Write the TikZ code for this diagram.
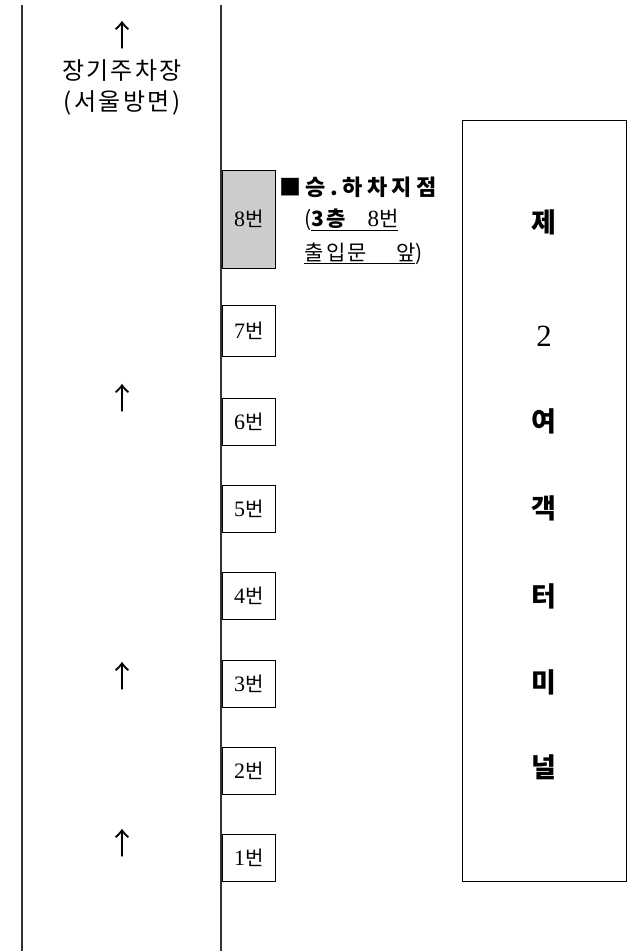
\documentclass[tikz,border=0pt]{standalone}
\usepackage{fontspec}
\newfontfamily\kr{Noto Sans CJK KR}
\newfontfamily\num{Liberation Serif}[Scale=1.1]
\usepackage{tikz}
\usetikzlibrary{arrows.meta,positioning}

\begin{document}
\begin{tikzpicture}[
  x=1pt, y=-1pt,
  road/.style={draw=black!80, line width=1.2pt},
  gatebox/.style={draw, line width=0.8pt, anchor=west, minimum width=53pt, minimum height=47pt, inner sep=1pt, fill=white, font=\fontsize{20}{24}\selectfont},
  termchar/.style={font=\kr\bfseries\fontsize{27}{30}\selectfont},
  sidelabel/.style={font=\kr\addfontfeature{LetterSpace=10}\fontsize{24}{26}\selectfont},
  uparrow/.style={font=\kr\fontsize{30}{30}\selectfont},
  stoptext/.style={anchor=west, inner sep=0pt, font=\kr\addfontfeature{LetterSpace=12}\fontsize{21}{24}\selectfont}
]
  \useasboundingbox (0,0) rectangle (633,951);

  % roads
  \coordinate (lefttop) at (22,5);
  \coordinate (leftbot) at (22,951);
  \coordinate (righttop) at (221,5);
  \coordinate (rightbot) at (221,951);
  \draw[road] (lefttop) -- (leftbot);
  \draw[road] (righttop) -- (rightbot);

  % direction marks
  \node[uparrow] (up1) at (122,35) {↑};
  \node[sidelabel] (parking) at (122,71) {장기주차장};
  \node[sidelabel] (seoul) at (122,103) {(서울방면)};
  \node[uparrow] (up2) at (122,398) {↑};
  \node[uparrow] (up3) at (122,676) {↑};
  \node[uparrow] (up4) at (122,843) {↑};

  % gates
  \node[gatebox, fill=black!20, minimum height=98pt] (gate8) at (222,219) {{\num 8}{\kr 번}};
  \node[gatebox, minimum height=51pt] (gate7) at (222,331) {{\num 7}{\kr 번}};
  \node[gatebox] (gate6) at (222,422) {{\num 6}{\kr 번}};
  \node[gatebox] (gate5) at (222,509) {{\num 5}{\kr 번}};
  \node[gatebox] (gate4) at (222,596) {{\num 4}{\kr 번}};
  \node[gatebox] (gate3) at (222,684) {{\num 3}{\kr 번}};
  \node[gatebox] (gate2) at (222,771) {{\num 2}{\kr 번}};
  \node[gatebox] (gate1) at (222,858) {{\num 1}{\kr 번}};

  % pick-up point
  \node[stoptext, font=\kr\bfseries\addfontfeature{LetterSpace=20}\fontsize{22}{24}\selectfont] (stophead) at (279,187) {■승.하차지점};
  \node[stoptext] (stopfloor) at (304,220) {(\underline{{\bfseries 3층}~~~{\num 8}번}};
  \node[stoptext] (stopdoor) at (304,254) {\underline{출입문~~~~앞})};

  % terminal
  \node[draw, line width=0.8pt, minimum width=164pt, minimum height=761pt] (terminal) at (544,501) {};
  \node[termchar] (t1) at (544,222) {제};
  \node[termchar, font=\num\fontsize{28}{30}\selectfont] (t2) at (544,336) {2};
  \node[termchar] (t3) at (544,421) {여};
  \node[termchar] (t4) at (544,508) {객};
  \node[termchar] (t5) at (544,596) {터};
  \node[termchar] (t6) at (544,682) {미};
  \node[termchar] (t7) at (544,767) {널};
\end{tikzpicture}
\end{document}
